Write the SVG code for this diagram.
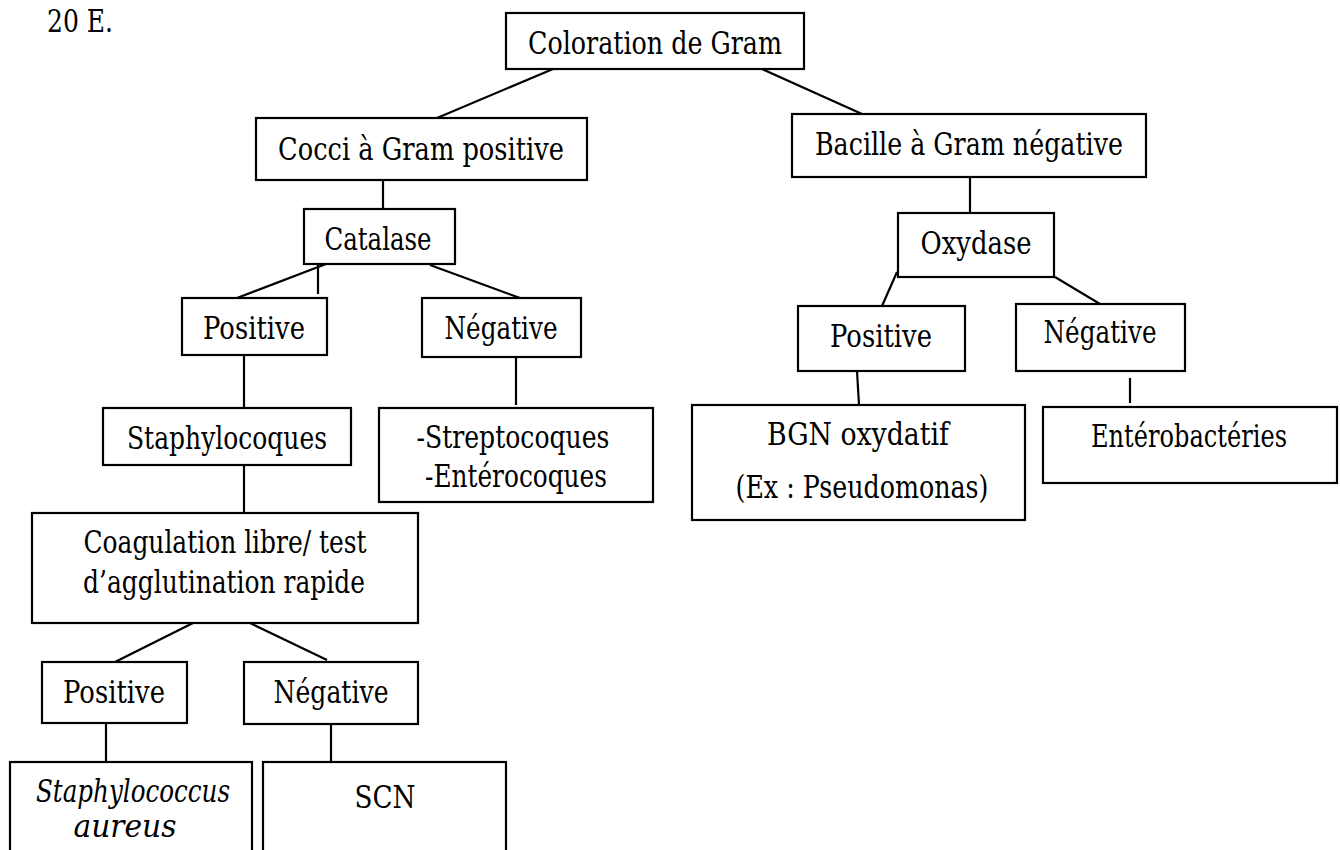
<svg xmlns="http://www.w3.org/2000/svg" width="1340" height="850" viewBox="0 0 1340 850">
  <style>
    .box { fill: #ffffff; stroke: #000000; stroke-width: 2.2; }
    .link { stroke: #000000; stroke-width: 2.2; fill: none; }
    .lbl { font-family: "DejaVu Serif", "Liberation Serif", serif; font-size: 32px; fill: #000000; text-anchor: middle; }
    .it { font-style: italic; }
    .lead { text-anchor: start; }
  </style>
  <rect width="1340" height="850" fill="#ffffff"/>

  <text class="lbl lead" x="47" y="32" textLength="66" lengthAdjust="spacingAndGlyphs">20 E.</text>

  <!-- tree connectors -->
  <g id="connectors">
    <line class="link" x1="553" y1="69" x2="437" y2="118"/>
    <line class="link" x1="762" y1="69" x2="862" y2="114"/>
    <line class="link" x1="383" y1="180" x2="383" y2="209"/>
    <line class="link" x1="326" y1="264" x2="237" y2="298"/>
    <line class="link" x1="318" y1="264" x2="318" y2="294"/>
    <line class="link" x1="430" y1="265" x2="520" y2="298"/>
    <line class="link" x1="516" y1="357" x2="516" y2="405"/>
    <line class="link" x1="244" y1="355" x2="244" y2="408"/>
    <line class="link" x1="244" y1="465" x2="244" y2="513"/>
    <line class="link" x1="193" y1="623" x2="115" y2="662"/>
    <line class="link" x1="250" y1="623" x2="327" y2="660"/>
    <line class="link" x1="106" y1="723" x2="106" y2="762"/>
    <line class="link" x1="331" y1="724" x2="331" y2="762"/>
    <line class="link" x1="970" y1="177" x2="970" y2="213"/>
    <line class="link" x1="897" y1="272" x2="882" y2="306"/>
    <line class="link" x1="1055" y1="277" x2="1100" y2="304"/>
    <line class="link" x1="857" y1="371" x2="859" y2="405"/>
    <line class="link" x1="1130" y1="378" x2="1130" y2="403"/>
  </g>

  <g id="gram">
    <rect class="box" x="506" y="13" width="298" height="56"/>
    <text class="lbl" x="655" y="54" textLength="254" lengthAdjust="spacingAndGlyphs">Coloration de Gram</text>
  </g>

  <g id="cocci">
    <rect class="box" x="256" y="118" width="331" height="62"/>
    <text class="lbl" x="421" y="160" textLength="286" lengthAdjust="spacingAndGlyphs">Cocci à Gram positive</text>
  </g>

  <g id="bacille">
    <rect class="box" x="792" y="114" width="354" height="63"/>
    <text class="lbl" x="969" y="155" textLength="308" lengthAdjust="spacingAndGlyphs">Bacille à Gram négative</text>
  </g>

  <g id="catalase">
    <rect class="box" x="304" y="209" width="151" height="55"/>
    <text class="lbl" x="378" y="250" textLength="107" lengthAdjust="spacingAndGlyphs">Catalase</text>
  </g>

  <g id="catalase-positive">
    <rect class="box" x="182" y="298" width="145" height="57"/>
    <text class="lbl" x="254" y="339" textLength="102" lengthAdjust="spacingAndGlyphs">Positive</text>
  </g>

  <g id="catalase-negative">
    <rect class="box" x="422" y="298" width="159" height="59"/>
    <text class="lbl" x="501" y="339" textLength="113" lengthAdjust="spacingAndGlyphs">Négative</text>
  </g>

  <g id="strepto">
    <rect class="box" x="379" y="408" width="274" height="94"/>
    <text class="lbl" x="513" y="448" textLength="193" lengthAdjust="spacingAndGlyphs">-Streptocoques</text>
    <text class="lbl" x="516" y="487" textLength="182" lengthAdjust="spacingAndGlyphs">-Entérocoques</text>
  </g>

  <g id="staphylocoques">
    <rect class="box" x="103" y="408" width="248" height="57"/>
    <text class="lbl" x="227" y="449" textLength="200" lengthAdjust="spacingAndGlyphs">Staphylocoques</text>
  </g>

  <g id="coagulase">
    <rect class="box" x="32" y="513" width="386" height="110"/>
    <text class="lbl" x="225" y="553" textLength="283" lengthAdjust="spacingAndGlyphs">Coagulation libre/ test</text>
    <text class="lbl" x="224" y="593" textLength="282" lengthAdjust="spacingAndGlyphs">d’agglutination rapide</text>
  </g>

  <g id="coag-positive">
    <rect class="box" x="42" y="662" width="145" height="61"/>
    <text class="lbl" x="114" y="703" textLength="102" lengthAdjust="spacingAndGlyphs">Positive</text>
  </g>

  <g id="coag-negative">
    <rect class="box" x="244" y="662" width="174" height="62"/>
    <text class="lbl" x="331" y="703" textLength="115" lengthAdjust="spacingAndGlyphs">Négative</text>
  </g>

  <g id="aureus">
    <rect class="box" x="10" y="762" width="242" height="110"/>
    <text class="lbl it" x="133" y="802" textLength="194" lengthAdjust="spacingAndGlyphs">Staphylococcus</text>
    <text class="lbl it" x="125" y="837" textLength="103" lengthAdjust="spacingAndGlyphs">aureus</text>
  </g>

  <g id="scn">
    <rect class="box" x="263" y="762" width="243" height="110"/>
    <text class="lbl" x="385" y="808" textLength="61" lengthAdjust="spacingAndGlyphs">SCN</text>
  </g>

  <g id="oxydase">
    <rect class="box" x="898" y="213" width="156" height="64"/>
    <text class="lbl" x="976" y="254" textLength="111" lengthAdjust="spacingAndGlyphs">Oxydase</text>
  </g>

  <g id="oxydase-positive">
    <rect class="box" x="798" y="306" width="167" height="65"/>
    <text class="lbl" x="881" y="347" textLength="102" lengthAdjust="spacingAndGlyphs">Positive</text>
  </g>

  <g id="oxydase-negative">
    <rect class="box" x="1016" y="304" width="169" height="67"/>
    <text class="lbl" x="1100" y="343" textLength="113" lengthAdjust="spacingAndGlyphs">Négative</text>
  </g>

  <g id="bgn">
    <rect class="box" x="692" y="405" width="333" height="115"/>
    <text class="lbl" x="858" y="445" textLength="182" lengthAdjust="spacingAndGlyphs">BGN oxydatif</text>
    <text class="lbl" x="862" y="498" textLength="253" lengthAdjust="spacingAndGlyphs">(Ex : Pseudomonas)</text>
  </g>

  <g id="enterobacteries">
    <rect class="box" x="1043" y="407" width="294" height="76"/>
    <text class="lbl" x="1189" y="447" textLength="196" lengthAdjust="spacingAndGlyphs">Entérobactéries</text>
  </g>
</svg>
